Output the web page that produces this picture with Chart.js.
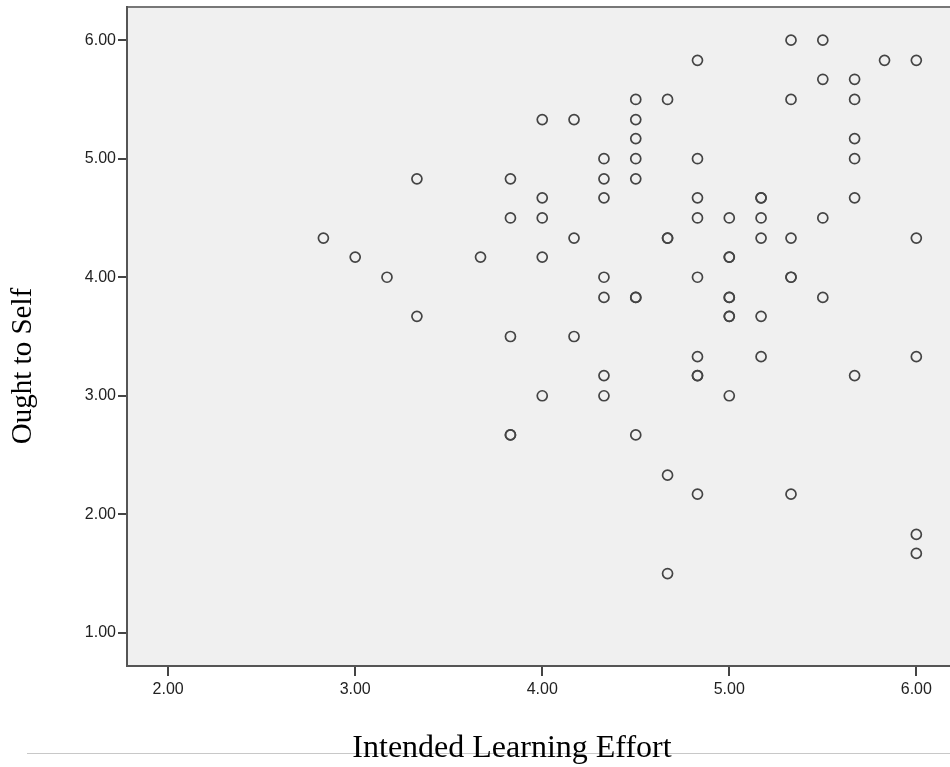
<!DOCTYPE html>
<html>
<head>
<meta charset="utf-8">
<script src="https://cdn.jsdelivr.net/npm/chart.js@4"></script>
<style>
  html, body { margin: 0; padding: 0; background: #fff; }
  canvas { display: block; }
</style>
</head>
<body>
<canvas id="chart1" width="950" height="767"></canvas>
<script>
// Intended Learning Effort (x) vs Ought to Self (y), one entry per respondent
var effort = [
  2.83,
  3.00,
  3.17,
  3.33, 3.33,
  3.67,
  3.83, 3.83, 3.83, 3.83, 3.83,
  4.00, 4.00, 4.00, 4.00, 4.00,
  4.17, 4.17, 4.17,
  4.33, 4.33, 4.33, 4.33, 4.33, 4.33, 4.33,
  4.50, 4.50, 4.50, 4.50, 4.50, 4.50, 4.50, 4.50,
  4.67, 4.67, 4.67, 4.67, 4.67,
  4.83, 4.83, 4.83, 4.83, 4.83, 4.83, 4.83, 4.83, 4.83,
  5.00, 5.00, 5.00, 5.00, 5.00, 5.00, 5.00, 5.00,
  5.17, 5.17, 5.17, 5.17, 5.17, 5.17,
  5.33, 5.33, 5.33, 5.33, 5.33, 5.33,
  5.50, 5.50, 5.50, 5.50,
  5.67, 5.67, 5.67, 5.67, 5.67, 5.67,
  5.83,
  6.00, 6.00, 6.00, 6.00, 6.00
];
var oughtSelf = [
  4.33,
  4.17,
  4.00,
  4.83, 3.67,
  4.17,
  4.83, 4.50, 3.50, 2.67, 2.67,
  5.33, 4.67, 4.50, 4.17, 3.00,
  5.33, 4.33, 3.50,
  5.00, 4.83, 4.67, 4.00, 3.83, 3.17, 3.00,
  5.50, 5.33, 5.17, 5.00, 4.83, 3.83, 3.83, 2.67,
  5.50, 4.33, 4.33, 2.33, 1.50,
  5.83, 5.00, 4.67, 4.50, 4.00, 3.33, 3.17, 3.17, 2.17,
  4.50, 4.17, 4.17, 3.83, 3.83, 3.67, 3.67, 3.00,
  4.67, 4.67, 4.50, 4.33, 3.67, 3.33,
  6.00, 5.50, 4.33, 4.00, 4.00, 2.17,
  6.00, 5.67, 4.50, 3.83,
  5.67, 5.50, 5.17, 5.00, 4.67, 3.17,
  5.83,
  5.83, 4.33, 3.33, 1.83, 1.67
];
var xTicks = [2, 3, 4, 5, 6];
var yTicks = [1, 2, 3, 4, 5, 6];
var xTitle = "Intended Learning Effort";
var yTitle = "Ought to Self";

var points = effort.map(function (x, i) {
  return { x: x, y: oughtSelf[i] };
});

// plot background, top border, separator line and the two serif axis titles
var frame = {
  id: "frame",
  beforeDraw: function (chart) {
    var ctx = chart.ctx;
    var a = chart.chartArea;
    ctx.save();
    ctx.fillStyle = "#fff";
    ctx.fillRect(0, 0, chart.width, chart.height);
    ctx.fillStyle = "#f0f0f0";
    ctx.fillRect(a.left, a.top, a.right - a.left, a.bottom - a.top);
    ctx.strokeStyle = "#777";
    ctx.lineWidth = 2;
    ctx.beginPath();
    ctx.moveTo(a.left, a.top);
    ctx.lineTo(a.right, a.top);
    ctx.stroke();
    ctx.strokeStyle = "#c8c8c8";
    ctx.lineWidth = 1;
    ctx.beginPath();
    ctx.moveTo(27, 753.5);
    ctx.lineTo(chart.width, 753.5);
    ctx.stroke();
    ctx.restore();
  },
  afterDraw: function (chart) {
    var ctx = chart.ctx;
    ctx.save();
    ctx.fillStyle = "#000";
    ctx.textAlign = "center";
    ctx.textBaseline = "alphabetic";
    ctx.font = '32px "Liberation Serif", "Times New Roman", serif';
    ctx.fillText(xTitle, 512, 757);
    ctx.translate(31, 366);
    ctx.rotate(-Math.PI / 2);
    ctx.font = '29px "Liberation Serif", "Times New Roman", serif';
    ctx.fillText(yTitle, 0, 0);
    ctx.restore();
  }
};

var tickFont = { family: '"Liberation Sans", Arial, sans-serif', size: 16 };

var ctx = document.getElementById("chart1");
var myChart = new Chart(ctx, {
  type: "scatter",
  data: {
    datasets: [
      {
        data: points,
        pointStyle: "circle",
        pointRadius: 5,
        pointHoverRadius: 5,
        pointBorderWidth: 1.7,
        borderColor: "#444",
        backgroundColor: "rgba(0,0,0,0)",
      },
    ],
  },
  options: {
    responsive: false,
    animation: false,
    devicePixelRatio: 1,
    layout: { autoPadding: false, padding: { top: 7, left: 0, right: 0, bottom: 0 } },
    plugins: {
      legend: { display: false },
      tooltip: { enabled: false },
    },
    scales: {
      x: {
        type: "linear",
        min: 1.78,
        max: 6.18,
        afterBuildTicks: function (s) {
          s.ticks = xTicks.map(function (v) { return { value: v }; });
        },
        afterFit: function (s) {
          s.height = 101;
          s.paddingLeft = 0;
          s.paddingRight = 0;
        },
        grid: { drawOnChartArea: false, drawTicks: true, tickLength: 10, color: "#444", lineWidth: 2 },
        border: { color: "#555", width: 2 },
        ticks: {
          font: tickFont,
          color: "#222",
          padding: 4,
          maxRotation: 0,
          autoSkip: false,
          callback: function (v) { return Number(v).toFixed(2); },
        },
      },
      y: {
        type: "linear",
        min: 0.72,
        max: 6.28,
        afterBuildTicks: function (s) {
          s.ticks = yTicks.map(function (v) { return { value: v }; });
        },
        afterFit: function (s) {
          s.width = 127;
          s.paddingTop = 0;
          s.paddingBottom = 0;
        },
        grid: { drawOnChartArea: false, drawTicks: true, tickLength: 9, color: "#444", lineWidth: 2 },
        border: { color: "#555", width: 2 },
        ticks: {
          font: tickFont,
          color: "#222",
          padding: 2,
          autoSkip: false,
          callback: function (v) { return Number(v).toFixed(2); },
        },
      },
    },
  },
  plugins: [frame],
});
</script>
</body>
</html>
